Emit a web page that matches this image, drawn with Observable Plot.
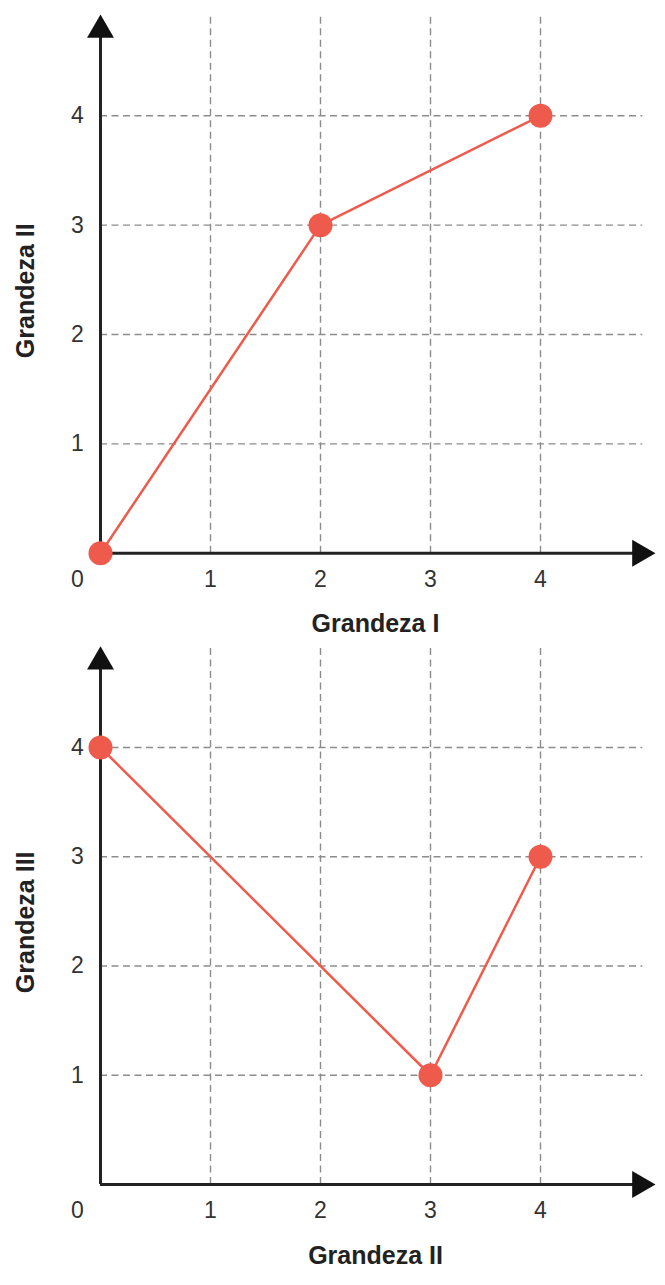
<!DOCTYPE html>
<html>
<head>
<meta charset="utf-8">
<script src="https://cdn.jsdelivr.net/npm/d3@7"></script>
<script src="https://cdn.jsdelivr.net/npm/@observablehq/plot@0.6"></script>
<style>
  html, body { margin: 0; padding: 0; background: #fff; }
  #chart svg { display: block; }
</style>
</head>
<body>
<div id="chart"></div>
<script>
// ---- data ----
const originTick = [0];
const gridValues = [1, 2, 3, 4];
const topX = [0, 2, 4];
const topY = [0, 3, 4];
const bottomX = [0, 3, 4];
const bottomY = [4, 1, 3];
const topXLabel = "Grandeza I";
const topYLabel = "Grandeza II";
const bottomXLabel = "Grandeza II";
const bottomYLabel = "Grandeza III";

// axis extents in data units (arrow geometry)
const gridEnd = 4.93;
const yArrow = 4.785;
const xArrow = 4.904;
const yLabelPos = 2.4;
const xLabelPos = 2.5;

const red = "#ee5b4c";
const font = "Liberation Sans, Arial, Helvetica, sans-serif";

function makeChart(xs, ys, xLabel, yLabel, height, y0px, y4px) {
  const data = xs.map((x, i) => ({x, y: ys[i]}));
  const tickStyle = {fontSize: 23, fill: "#333", textAnchor: "middle"};
  return Plot.plot({
    width: 665,
    height,
    margin: 0,
    x: {domain: [0, 4], range: [100, 540], axis: null},
    y: {domain: [0, 4], range: [y0px, y4px], axis: null},
    style: {fontFamily: font, background: "white"},
    marks: [
      Plot.ruleX(gridValues, {x: d => d, y1: 0, y2: gridEnd, stroke: "#8c8c8c", strokeWidth: 1.4, strokeDasharray: "7,4.5"}),
      Plot.ruleY(gridValues, {y: d => d, x1: 0, x2: gridEnd, stroke: "#8c8c8c", strokeWidth: 1.4, strokeDasharray: "7,4.5"}),
      Plot.ruleX([0], {y1: 0, y2: yArrow, stroke: "#222", strokeWidth: 3}),
      Plot.ruleY([0], {x1: 0, x2: xArrow, stroke: "#222", strokeWidth: 3}),
      Plot.dot([{x: 0, y: yArrow}], {x: "x", y: "y", symbol: "triangle", r: 10, fill: "#111", stroke: null}),
      Plot.dot([{x: xArrow, y: 0}], {x: "x", y: "y", symbol: "triangle", r: 10, fill: "#111", stroke: null, rotate: 90}),
      Plot.text(gridValues, {x: 0, y: d => d, text: d => String(d), dx: -23, ...tickStyle}),
      Plot.text(gridValues, {x: d => d, y: 0, text: d => String(d), dy: 26, ...tickStyle}),
      Plot.text(originTick, {x: d => d, y: d => d, text: d => String(d), dx: -23, dy: 26, ...tickStyle}),
      Plot.text([xLabel], {x: xLabelPos, y: 0, text: d => d, dy: 71, fontSize: 25, fontWeight: "bold", fill: "#222", textAnchor: "middle"}),
      Plot.text([yLabel], {x: 0, y: yLabelPos, text: d => d, dx: -75, rotate: -90, fontSize: 25, fontWeight: "bold", fill: "#222", textAnchor: "middle"}),
      Plot.line(data, {x: "x", y: "y", stroke: red, strokeWidth: 2.5}),
      Plot.dot(data, {x: "x", y: "y", r: 12, fill: red, stroke: null})
    ]
  });
}

const root = document.getElementById("chart");
root.append(makeChart(topX, topY, topXLabel, topYLabel, 640, 552.7, 115.3));
root.append(makeChart(bottomX, bottomY, bottomXLabel, bottomYLabel, 645, 544, 107));
</script>
</body>
</html>
